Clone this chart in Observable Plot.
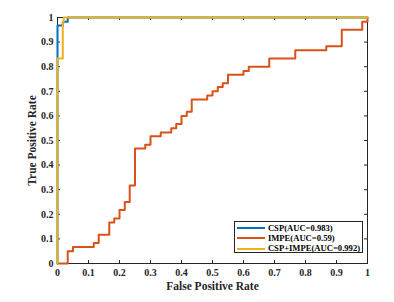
<!DOCTYPE html>
<html>
<head>
<meta charset="utf-8">
<script src="https://cdn.jsdelivr.net/npm/d3@7"></script>
<script src="https://cdn.jsdelivr.net/npm/@observablehq/plot@0.6"></script>
<style>
  body { margin: 0; background: #fff; }
  #wrap { position: relative; width: 394px; height: 302px; }
  #legend {
    position: absolute; left: 234px; top: 221px; width: 129px; height: 32px;
    box-sizing: border-box; border: 1px solid #262626; background: #fff;
    font: bold 8.6px "Liberation Serif", serif; color: #000; padding-top: 1px;
  }
  .row { display: flex; align-items: center; height: 10.3px; }
  .swatch { margin-left: 2.3px; width: 28px; height: 2px; }
  .lbl { margin-left: 2.6px; white-space: nowrap; line-height: 1; }
</style>
</head>
<body>
<div id="wrap"></div>
<script>
// ---- data ----
const seriesNames = ["CSP(AUC=0.983)", "IMPE(AUC=0.59)", "CSP+IMPE(AUC=0.992)"];
const seriesColors = ["#0072BD", "#D95319", "#EDB120"];

// ROC corner points (step-after): fpr, tpr
const cspFpr = [0, 0, 0.017, 0.033, 1];
const cspTpr = [0, 0.967, 0.983, 1, 1];

const impeFpr = [0, 0.033, 0.05, 0.117, 0.133, 0.167, 0.183, 0.2, 0.217, 0.233, 0.25,
  0.283, 0.3, 0.333, 0.367, 0.383, 0.4, 0.417, 0.433, 0.483, 0.5, 0.517, 0.533, 0.55,
  0.6, 0.617, 0.683, 0.767, 0.867, 0.917, 0.983, 1];
const impeTpr = [0, 0.05, 0.067, 0.083, 0.117, 0.167, 0.183, 0.217, 0.25, 0.317, 0.467,
  0.483, 0.517, 0.533, 0.55, 0.567, 0.6, 0.617, 0.667, 0.683, 0.7, 0.717, 0.733, 0.767,
  0.783, 0.8, 0.833, 0.867, 0.883, 0.95, 0.983, 1];

const combFpr = [0, 0, 0.017, 0.02, 1];
const combTpr = [0, 0.833, 0.983, 1, 1];

const tickValues = [0, 0.1, 0.2, 0.3, 0.4, 0.5, 0.6, 0.7, 0.8, 0.9, 1];
const tickLabels = ["0", "0.1", "0.2", "0.3", "0.4", "0.5", "0.6", "0.7", "0.8", "0.9", "1"];

const xTitle = "False Positive Rate";
const yTitle = "True Positive Rate";

// ---- build ----
const toRows = (fx, ty, s) => fx.map((f, i) => ({fpr: f, tpr: ty[i], series: s}));
const csp = toRows(cspFpr, cspTpr, seriesNames[0]);
const impe = toRows(impeFpr, impeTpr, seriesNames[1]);
const comb = toRows(combFpr, combTpr, seriesNames[2]);
const labelMap = new Map(tickValues.map((v, i) => [v, tickLabels[i]]));

const W = 394, H = 302, mL = 57, mR = 27, mT = 17, mB = 39;
const iw = W - mL - mR, ih = H - mT - mB;
const axisColor = "#262626";
const tl = 3;

const chart = Plot.plot({
  width: W, height: H,
  marginLeft: mL, marginRight: mR, marginTop: mT, marginBottom: mB,
  style: {fontFamily: "'Liberation Serif', serif", fontWeight: "bold", fontSize: "10px", color: axisColor, background: "#fff"},
  x: {domain: [0, 1]},
  y: {domain: [0, 1]},
  marks: [
    Plot.frame({stroke: axisColor}),
    Plot.ruleX(tickValues, {x: d => d, stroke: axisColor, insetTop: ih - tl}),
    Plot.ruleX(tickValues, {x: d => d, stroke: axisColor, insetBottom: ih - tl}),
    Plot.ruleY(tickValues, {y: d => d, stroke: axisColor, insetRight: iw - tl}),
    Plot.ruleY(tickValues, {y: d => d, stroke: axisColor, insetLeft: iw - tl}),
    Plot.axisX({ticks: tickValues, tickFormat: d => labelMap.get(d), tickSize: 0, tickPadding: 5, label: null}),
    Plot.axisY({ticks: tickValues, tickFormat: d => labelMap.get(d), tickSize: 0, tickPadding: 4, label: null}),
    Plot.line(csp, {x: "fpr", y: "tpr", stroke: seriesColors[0], strokeWidth: 2, curve: "step-after"}),
    Plot.line(impe, {x: "fpr", y: "tpr", stroke: seriesColors[1], strokeWidth: 2, curve: "step-after"}),
    Plot.line(comb, {x: "fpr", y: "tpr", stroke: seriesColors[2], strokeWidth: 2, curve: "step-after"}),
    Plot.text([xTitle], {text: d => d, frameAnchor: "bottom", lineAnchor: "middle", textAnchor: "middle", dy: 23, fontSize: 11.5, fontWeight: "bold", fill: axisColor}),
    Plot.text([yTitle], {text: d => d, frameAnchor: "left", lineAnchor: "middle", textAnchor: "middle", dx: -25, rotate: -90, fontSize: 11.5, fontWeight: "bold", fill: axisColor})
  ]
});

const wrap = document.getElementById("wrap");
wrap.appendChild(chart);

const legend = document.createElement("div");
legend.id = "legend";
seriesNames.forEach((name, i) => {
  const row = document.createElement("div");
  row.className = "row";
  const sw = document.createElement("div");
  sw.className = "swatch";
  sw.style.background = seriesColors[i];
  const lb = document.createElement("span");
  lb.className = "lbl";
  lb.textContent = name;
  row.appendChild(sw);
  row.appendChild(lb);
  legend.appendChild(row);
});
wrap.appendChild(legend);
</script>
</body>
</html>
